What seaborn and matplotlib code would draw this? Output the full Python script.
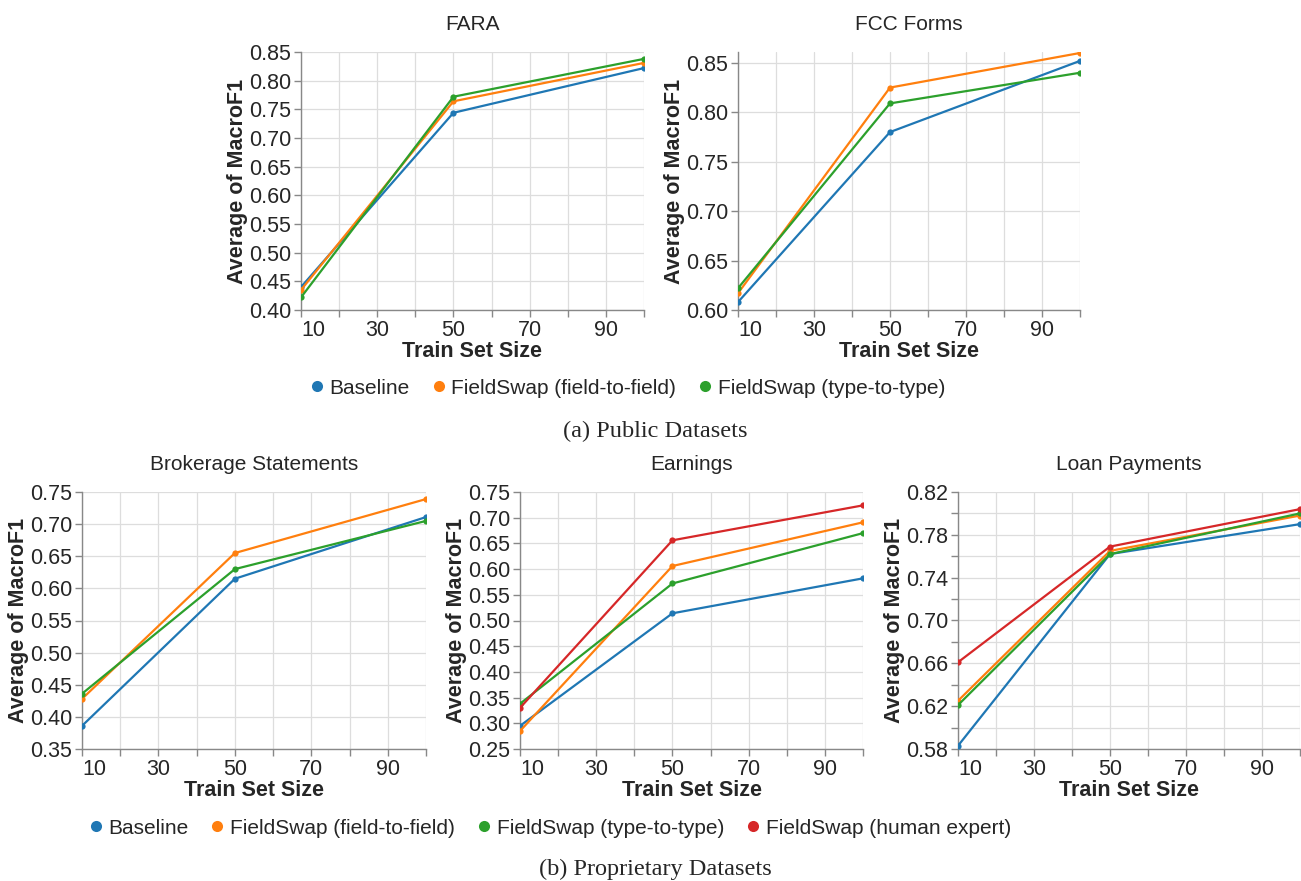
import numpy as np
import pandas as pd
import matplotlib
matplotlib.use("Agg")
import matplotlib.pyplot as plt
from matplotlib.lines import Line2D
from matplotlib.ticker import MultipleLocator
import seaborn as sns

# === Datos ===
train_sizes = [10, 50, 100]

methods = ["Baseline", "FieldSwap (field-to-field)", "FieldSwap (type-to-type)",
           "FieldSwap (human expert)"]
colors = ["#1f77b4", "#ff7f0e", "#2ca02c", "#d62728"]

fara_baseline = [0.440, 0.744, 0.822]
fara_f2f = [0.435, 0.764, 0.831]
fara_t2t = [0.422, 0.772, 0.838]

fcc_baseline = [0.608, 0.780, 0.852]
fcc_f2f = [0.617, 0.825, 0.860]
fcc_t2t = [0.622, 0.809, 0.840]

brok_baseline = [0.386, 0.615, 0.711]
brok_f2f = [0.428, 0.655, 0.739]
brok_t2t = [0.436, 0.630, 0.705]

earn_baseline = [0.295, 0.514, 0.582]
earn_f2f = [0.285, 0.606, 0.691]
earn_t2t = [0.338, 0.572, 0.670]
earn_human = [0.330, 0.656, 0.724]

loan_baseline = [0.583, 0.762, 0.790]
loan_f2f = [0.625, 0.765, 0.798]
loan_t2t = [0.621, 0.762, 0.800]
loan_human = [0.661, 0.769, 0.804]


def to_long(series):
    rows = []
    for name, vals in series.items():
        for x, v in zip(train_sizes, vals):
            rows.append({"Train Set Size": x, "Method": name, "Valor": v})
    return pd.DataFrame(rows)


datasets = [
    ("FARA", {methods[0]: fara_baseline, methods[1]: fara_f2f, methods[2]: fara_t2t},
     (0.40, 0.85), 0.05, None),
    ("FCC Forms", {methods[0]: fcc_baseline, methods[1]: fcc_f2f, methods[2]: fcc_t2t},
     (0.60, 0.861), 0.05, None),
    ("Brokerage Statements", {methods[0]: brok_baseline, methods[1]: brok_f2f, methods[2]: brok_t2t},
     (0.35, 0.75), 0.05, None),
    ("Earnings", {methods[0]: earn_baseline, methods[1]: earn_f2f, methods[2]: earn_t2t,
                  methods[3]: earn_human},
     (0.25, 0.75), 0.05, None),
    ("Loan Payments", {methods[0]: loan_baseline, methods[1]: loan_f2f, methods[2]: loan_t2t,
                       methods[3]: loan_human},
     (0.58, 0.82), 0.04, 0.02),
]

# posiciones de los ejes en pixeles (x0, x1, ytop, ybottom)
W, H = 1301, 881
boxes = [
    (301, 644, 52, 310),
    (738, 1080, 52, 310),
    (82, 426, 492, 749),
    (520, 863, 492, 749),
    (958, 1300, 492, 749),
]

sns.set_theme(style="white")
plt.rcParams["font.family"] = ["Liberation Sans", "DejaVu Sans"]
palette = dict(zip(methods, colors))

fig = plt.figure(figsize=(W / 100, H / 100), dpi=100)

for (title, series, ylim, ystep, yminor), (x0, x1, yt, yb) in zip(datasets, boxes):
    ax = fig.add_axes([x0 / W, 1 - yb / H, (x1 - x0) / W, (yb - yt) / H])
    df = to_long(series)
    sns.lineplot(data=df, x="Train Set Size", y="Valor", hue="Method", palette=palette,
                 marker="o", markersize=4.5, markeredgewidth=0, linewidth=1.6,
                 legend=False, ax=ax, zorder=3)
    ax.set_xlim(10, 100)
    ax.set_xticks([10, 30, 50, 70, 90])
    ax.xaxis.set_minor_locator(MultipleLocator(10))
    ax.set_yticks(np.arange(ylim[0], ylim[1] + 1e-6, ystep))
    ax.set_ylim(*ylim)
    ax.yaxis.set_minor_locator(MultipleLocator(yminor if yminor else ystep))
    ax.yaxis.set_major_formatter(matplotlib.ticker.FormatStrFormatter("%.2f"))
    ax.grid(True, which="both", color="#dddddd", linewidth=0.9)
    ax.set_axisbelow(True)
    for s in ["top", "right"]:
        ax.spines[s].set_visible(False)
    for s in ["left", "bottom"]:
        ax.spines[s].set_color("#888888")
        ax.spines[s].set_linewidth(1.0)
    ax.tick_params(which="both", direction="out", length=5, width=1, color="#888888",
                   left=True, bottom=True, labelsize=15.5, pad=2)
    ax.tick_params(which="minor", labelleft=False, labelbottom=False)
    ax.get_xticklabels()[0].set_horizontalalignment("left")
    ax.set_xlabel("Train Set Size", fontsize=15.5, fontweight="bold", labelpad=0)
    ax.set_ylabel("Average of MacroF1", fontsize=15.5, fontweight="bold", labelpad=1)
    ax.set_title(title, fontsize=15, pad=16)

# === Leyendas ===
def handles(n):
    return [Line2D([], [], marker="o", linestyle="", markersize=8, markeredgewidth=0,
                   color=c, label=m) for m, c in zip(methods[:n], colors[:n])]

fig.legend(handles=handles(3), loc="center", bbox_to_anchor=(626 / W, 1 - 388 / H),
           ncol=3, frameon=False, fontsize=15, handletextpad=0.1, columnspacing=0.9,
           handlelength=1.0)
fig.legend(handles=handles(4), loc="center", bbox_to_anchor=(548 / W, 1 - 828 / H),
           ncol=4, frameon=False, fontsize=15, handletextpad=0.1, columnspacing=0.9,
           handlelength=1.0)

fig.text(655 / W, 1 - 431 / H, "(a) Public Datasets", ha="center", va="center",
         fontsize=17.5, family=["Liberation Serif", "DejaVu Serif"])
fig.text(655 / W, 1 - 869 / H, "(b) Proprietary Datasets", ha="center", va="center",
         fontsize=17.5, family=["Liberation Serif", "DejaVu Serif"])

fig.savefig("out.png", dpi=100, facecolor="white")
